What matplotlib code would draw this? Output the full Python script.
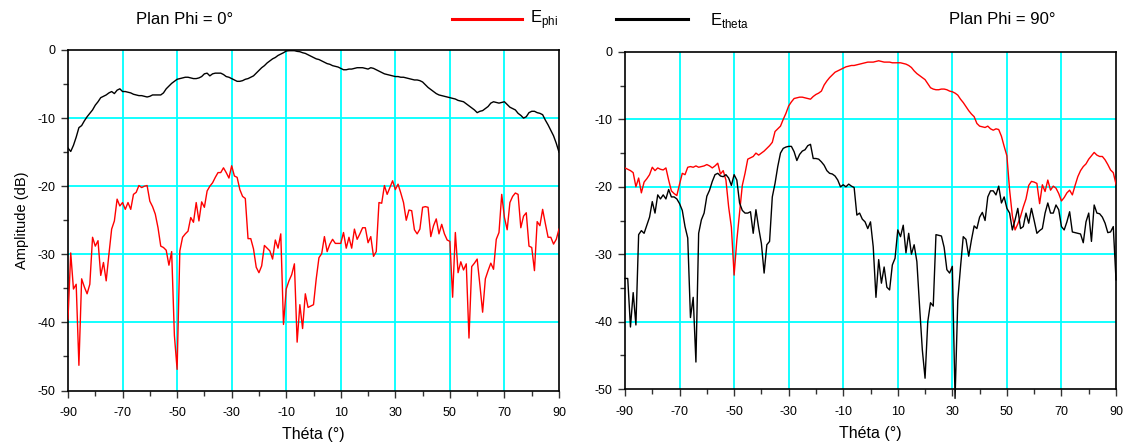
import numpy as np
import matplotlib
matplotlib.use("Agg")
import matplotlib.pyplot as plt
from matplotlib.ticker import MultipleLocator, FixedLocator

plt.rcParams['font.family'] = ['Liberation Sans', 'DejaVu Sans']
plt.rcParams['mathtext.fontset'] = 'custom'
plt.rcParams['mathtext.rm'] = 'Liberation Sans'

theta = list(range(-90, 91))

# Plan Phi = 0 deg
e_theta_phi0 = [
    -14.4, -14.9, -14.0, -12.8, -11.4, -11.1, -10.4, -9.8, -9.3, -8.8,
    -8.1, -7.6, -7.0, -6.8, -6.6, -6.3, -6.1, -6.4, -5.9, -5.7,
    -6.1, -6.1, -6.2, -6.3, -6.5, -6.6, -6.7, -6.7, -6.8, -6.9,
    -6.8, -6.6, -6.6, -6.6, -6.6, -6.3, -5.7, -5.3, -4.9, -4.6,
    -4.3, -4.2, -4.1, -4.0, -4.0, -4.1, -4.2, -4.2, -4.1, -3.9,
    -3.5, -3.4, -3.8, -3.5, -3.4, -3.4, -3.4, -3.6, -3.9, -4.0,
    -4.2, -4.4, -4.6, -4.6, -4.5, -4.3, -4.2, -4.0, -3.8, -3.4,
    -3.0, -2.6, -2.3, -1.9, -1.6, -1.3, -1.1, -0.8, -0.6, -0.4,
    -0.15, -0.1, -0.1, -0.1, -0.2, -0.25, -0.4, -0.5, -0.7, -0.9,
    -1.1, -1.3, -1.4, -1.6, -1.8, -2.0, -2.1, -2.3, -2.4, -2.5,
    -2.7, -2.9, -2.9, -2.8, -2.8, -2.7, -2.6, -2.6, -2.6, -2.7,
    -2.8, -2.6, -2.7, -2.9, -3.1, -3.3, -3.5, -3.6, -3.7, -3.8,
    -3.9, -3.9, -4.0, -4.0, -4.1, -4.2, -4.3, -4.4, -4.4, -4.5,
    -4.7, -5.1, -5.5, -5.8, -6.1, -6.4, -6.6, -6.7, -6.8, -6.9,
    -7.0, -7.1, -7.2, -7.4, -7.5, -7.6, -7.9, -8.2, -8.5, -8.8,
    -9.2, -9.0, -8.9, -8.6, -8.3, -7.8, -7.6, -7.7, -7.8, -7.7,
    -7.6, -8.0, -8.4, -8.6, -8.8, -9.3, -9.6, -10.0, -9.8, -9.2,
    -9.0, -9.0, -9.2, -9.3, -9.5, -10.3, -11.0, -11.8, -12.6, -13.7,
    -15.0,
]
e_phi_phi0 = [
    -39.5, -29.8, -35.1, -34.4, -46.3, -33.6, -34.8, -35.8, -34.4, -27.5,
    -28.8, -28.0, -33.1, -31.2, -33.9, -30.0, -26.3, -25.1, -21.9, -22.9,
    -22.4, -23.4, -22.4, -23.4, -21.2, -20.9, -19.9, -20.2, -20.0, -19.9,
    -22.2, -23.0, -24.1, -26.1, -28.8, -29.0, -29.4, -31.6, -29.6, -41.9,
    -46.9, -29.5, -27.5, -27.0, -26.6, -24.6, -25.3, -22.4, -25.1, -22.3,
    -23.1, -20.7, -20.0, -19.5, -18.7, -18.0, -18.0, -17.3, -18.0, -18.8,
    -17.0, -18.5, -18.7, -20.5, -21.5, -21.8, -27.7, -27.7, -29.2, -31.9,
    -32.7, -31.7, -28.7, -29.1, -29.5, -30.7, -27.9, -29.1, -27.0, -40.3,
    -35.1, -33.9, -33.0, -31.4, -42.9, -37.4, -40.9, -35.8, -37.8, -37.6,
    -37.4, -33.6, -30.5, -29.9, -27.4, -29.6, -28.5, -27.8, -28.4, -28.4,
    -28.4, -26.8, -29.1, -27.5, -29.1, -26.3, -27.8, -27.0, -26.1, -26.1,
    -28.3, -27.4, -30.3, -29.6, -22.4, -22.5, -19.9, -21.2, -20.2, -19.2,
    -20.5, -19.7, -21.0, -22.4, -25.0, -23.5, -23.6, -26.4, -27.0, -26.3,
    -23.1, -23.0, -23.1, -27.4, -25.8, -24.8, -27.0, -25.6, -27.0, -27.9,
    -28.1, -36.3, -26.8, -32.7, -31.1, -32.3, -31.4, -42.3, -31.8, -31.3,
    -30.7, -34.5, -38.5, -33.6, -32.4, -31.3, -32.2, -27.8, -26.8, -21.2,
    -24.6, -26.4, -22.4, -21.5, -21.0, -21.2, -26.1, -24.4, -23.9, -28.8,
    -29.0, -32.4, -25.2, -25.8, -23.4, -25.5, -27.5, -27.5, -28.5, -27.8,
    -26.3,
]

# Plan Phi = 90 deg
e_phi_phi90 = [
    -17.2, -17.4, -17.6, -17.9, -20.0, -18.7, -20.9, -19.3, -18.8, -18.2,
    -17.1, -17.6, -17.2, -17.4, -17.5, -17.2, -19.0, -20.6, -21.0, -21.3,
    -19.6, -18.0, -18.2, -17.1, -17.0, -17.1, -16.9, -17.1, -17.0, -16.9,
    -16.7, -16.9, -17.2, -16.9, -16.5, -18.1, -17.6, -19.0, -23.0, -26.0,
    -33.1, -27.9, -23.9, -19.8, -18.0, -15.9, -15.7, -15.5, -15.0, -15.3,
    -15.0, -14.7, -14.3, -13.9, -13.4, -11.8, -11.4, -11.0, -10.0, -9.1,
    -8.0, -7.4, -6.9, -6.8, -6.7, -6.7, -6.8, -6.9, -7.0, -6.6,
    -6.3, -6.1, -5.8, -4.9, -4.3, -3.8, -3.4, -3.0, -2.8, -2.6,
    -2.4, -2.2, -2.1, -2.0, -2.0, -1.9, -1.8, -1.7, -1.6, -1.5,
    -1.5, -1.5, -1.4, -1.3, -1.4, -1.5, -1.5, -1.5, -1.6, -1.6,
    -1.6, -1.6, -1.7, -1.8, -2.0, -2.3, -2.8, -3.2, -3.5, -3.8,
    -4.1, -4.7, -5.3, -5.5, -5.6, -5.6, -5.5, -5.5, -5.6, -5.8,
    -5.9, -6.1, -6.4, -7.0, -7.5, -8.1, -8.7, -9.2, -9.6, -10.6,
    -11.0, -11.1, -11.2, -11.0, -11.4, -11.6, -11.4, -11.5, -12.5, -14.0,
    -15.4, -20.5, -24.3, -26.4, -25.5, -24.4, -23.0, -21.8, -19.8, -19.2,
    -19.3, -19.5, -22.5, -19.7, -20.7, -19.0, -20.5, -19.9, -20.2, -21.0,
    -22.1, -21.6, -20.9, -20.5, -21.2, -19.8, -18.5, -17.6, -17.0, -16.6,
    -15.9, -15.4, -14.9, -15.3, -15.5, -15.5, -16.0, -16.7, -17.5, -17.9,
    -19.6,
]
e_theta_phi90 = [
    -33.6, -33.6, -40.8, -35.7, -40.5, -27.1, -26.5, -26.9, -25.7, -24.5,
    -22.2, -23.9, -21.2, -21.8, -21.2, -21.8, -20.4, -21.5, -21.5, -21.8,
    -22.5, -23.5, -25.9, -27.6, -39.4, -36.4, -46.0, -26.9, -24.9, -23.9,
    -21.4, -20.5, -19.2, -18.2, -18.0, -18.4, -18.5, -18.2, -18.7, -19.8,
    -18.2, -19.0, -22.4, -23.5, -23.9, -23.9, -23.7, -26.9, -23.4, -26.1,
    -28.4, -32.8, -28.6, -28.1, -21.5, -19.5, -17.0, -15.0, -14.3, -14.1,
    -14.0, -14.0, -14.8, -16.1, -15.2, -14.7, -14.5, -13.9, -13.7, -15.8,
    -15.8, -15.9, -16.3, -16.8, -17.6, -18.0, -18.1, -18.4, -19.0, -20.0,
    -19.7, -20.0, -19.6, -19.9, -20.1, -24.2, -23.9, -24.8, -25.2, -26.2,
    -25.2, -28.9, -36.4, -30.8, -34.3, -31.9, -34.9, -35.3, -31.6, -30.6,
    -26.4, -27.4, -25.7, -29.8, -26.9, -30.0, -28.6, -31.1, -37.8, -44.2,
    -48.4, -40.0, -37.2, -37.7, -27.1, -27.2, -27.3, -29.0, -32.3, -32.8,
    -31.8, -51.4, -36.8, -31.9, -27.4, -27.8, -30.3, -27.9, -25.8, -26.2,
    -24.5, -23.8, -25.0, -21.5, -20.6, -20.6, -21.2, -19.9, -22.4, -21.5,
    -23.2, -23.9, -26.4, -24.9, -23.2, -26.2, -25.9, -23.9, -25.4, -23.2,
    -25.0, -26.9, -26.5, -26.2, -23.9, -22.4, -23.9, -23.9, -22.7, -23.4,
    -25.9, -26.4, -25.2, -23.7, -26.7, -26.8, -26.9, -27.0, -28.3, -25.2,
    -23.9, -28.1, -22.7, -23.9, -24.0, -24.5, -25.4, -26.8, -26.7, -25.9,
    -33.8,
]

xticks = [-90, -70, -50, -30, -10, 10, 30, 50, 70, 90]
yticks = [0, -10, -20, -30, -40, -50]

W, H = 1128, 446
fig = plt.figure(figsize=(W / 100, H / 100), dpi=100)

def px_axes(l, r, t, b):
    return [l / W, (H - b) / H, (r - l) / W, (b - t) / H]

ax1 = fig.add_axes(px_axes(68, 559, 50, 390.5))
ax2 = fig.add_axes(px_axes(625, 1116, 52, 389))

def style(ax):
    ax.set_xlim(-90, 90)
    ax.set_ylim(-50, 0)
    ax.xaxis.set_major_locator(FixedLocator(xticks))
    ax.xaxis.set_minor_locator(MultipleLocator(10))
    ax.yaxis.set_major_locator(FixedLocator(yticks))
    ax.yaxis.set_minor_locator(MultipleLocator(5))
    ax.set_xticklabels([str(v) for v in xticks])
    ax.set_yticklabels([str(v) for v in yticks])
    for v in xticks[1:-1]:
        ax.axvline(v, color='#00ffff', lw=1.3, zorder=1)
    for v in yticks[1:-1]:
        ax.axhline(v, color='#00ffff', lw=1.3, zorder=1)
    ax.tick_params(which='major', direction='out', length=5, width=1,
                   labelsize=9, color='#333333')
    ax.tick_params(which='minor', direction='out', length=3.5, width=1,
                   color='#333333')
    ax.tick_params(axis='x', which='major', pad=7)
    ax.tick_params(axis='y', which='major', pad=4)
    for s in ax.spines.values():
        s.set_linewidth(1.2)
    ax.set_xlabel('Théta (°)', fontsize=11.5, labelpad=6)

ax1.plot(theta, e_theta_phi0, color='black', lw=1.0, zorder=3)
ax1.plot(theta, e_phi_phi0, color='#ff0000', lw=1.0, zorder=3)
style(ax1)
ax1.set_ylabel('Amplitude (dB)', fontsize=10.5, labelpad=6)

ax2.plot(theta, e_phi_phi90, color='#ff0000', lw=1.0, zorder=3)
ax2.plot(theta, e_theta_phi90, color='black', lw=1.0, zorder=4, clip_on=False)
style(ax2)

def fx(x):
    return x / W

def fy(y):
    return (H - y) / H

fig.text(fx(185), fy(20), 'Plan Phi = 0°', fontsize=12, ha='center', va='center')
fig.text(fx(1002), fy(20), 'Plan Phi = 90°', fontsize=12, ha='center', va='center')
fig.add_artist(plt.Line2D([fx(452), fx(522)], [fy(19), fy(19)], color='#ff0000', lw=2.2))
fig.add_artist(plt.Line2D([fx(616), fx(688)], [fy(19), fy(19)], color='black', lw=2.2))
fig.text(fx(530), fy(20), r'E$_{\mathregular{phi}}$', fontsize=12, ha='left', va='center')
fig.text(fx(710), fy(20), r'E$_{\mathregular{theta}}$', fontsize=12, ha='left', va='center')

fig.savefig('out.png', dpi=100)
